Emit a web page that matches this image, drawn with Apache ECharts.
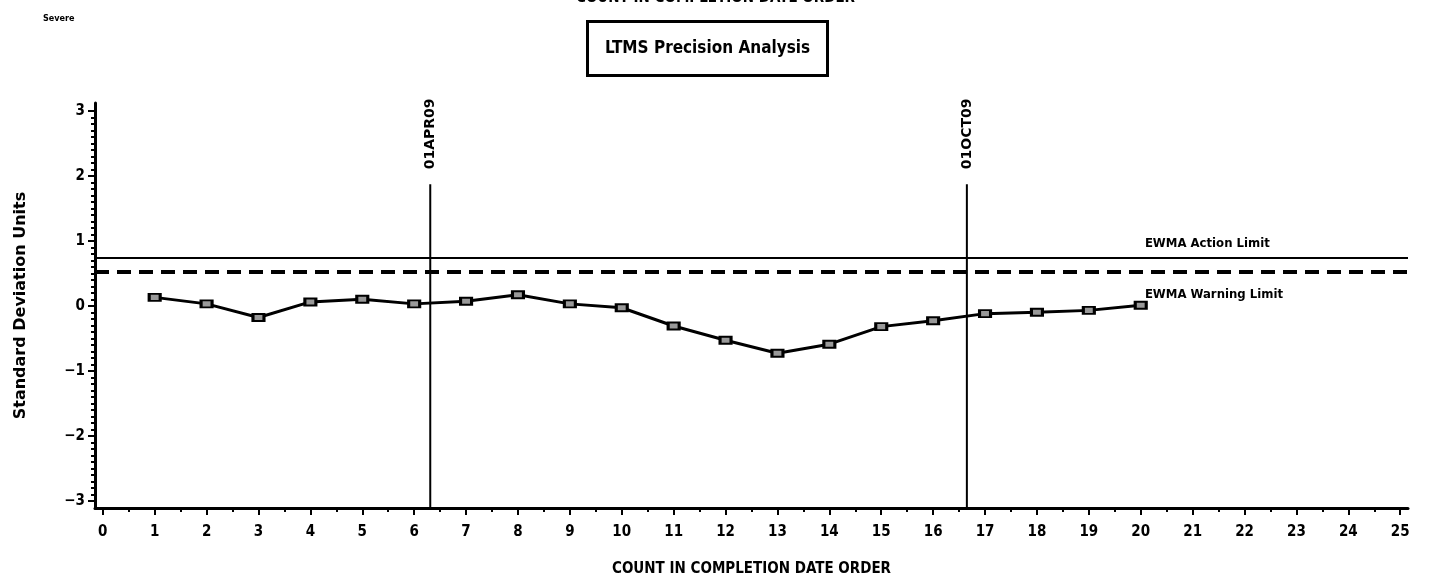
<!DOCTYPE html>
<html>
<head>
<meta charset="utf-8">
<script src="https://cdn.jsdelivr.net/npm/echarts@6/dist/echarts.min.js"></script>
<style>
  html, body { margin: 0; padding: 0; background: #fff; }
  #chart { width: 1431px; height: 581px; }
</style>
</head>
<body>
<div id="chart"></div>
<script>
// EWMA values by test count
const counts = [1, 2, 3, 4, 5, 6, 7, 8, 9, 10, 11, 12, 13, 14, 15, 16, 17, 18, 19, 20];
const ewma = [0.13, 0.03, -0.18, 0.06, 0.10, 0.03, 0.07, 0.17, 0.03, -0.03,
  -0.31, -0.53, -0.73, -0.59, -0.32, -0.23, -0.12, -0.10, -0.07, 0.01];

// limits
const actionLimit = 0.74;
const warningLimit = 0.52;

// date markers (position on count axis, label)
const dateMarks = [[6.31, '01APR09'], [16.65, '01OCT09']];
const dateMarkTop = 1.87;

// axis ticks
const xTicks = [0, 1, 2, 3, 4, 5, 6, 7, 8, 9, 10, 11, 12, 13, 14, 15, 16, 17, 18, 19, 20, 21, 22, 23, 24, 25];
const yTicks = [-3, -2, -1, 0, 1, 2, 3];
const xMin = -0.15, xMax = 25.15;
const yMin = -3.11, yMax = 3.12;

const xMinor = xTicks.slice(0, -1).map(v => v + 0.5);
const yMinor = [];
yTicks.slice(0, -1).forEach(v => {
  for (let i = 1; i < 10; i++) yMinor.push(+(v + i / 10).toFixed(2));
});

const FONT = '"DejaVu Sans Condensed", "Liberation Sans", sans-serif';
const chart = echarts.init(document.getElementById('chart'));

const option = {
  animation: false,
  backgroundColor: '#fff',
  title: [
    {
      text: 'LTMS Precision Analysis',
      left: 587, top: 21,
      padding: [19, 18, 19, 18],
      borderColor: '#000', borderWidth: 3,
      textStyle: { fontFamily: FONT, fontWeight: 'bold', fontSize: 17, color: '#000' }
    },
    {
      text: 'Severe',
      left: 38, top: 9,
      textStyle: { fontFamily: FONT, fontWeight: 'bold', fontSize: 9, color: '#000' }
    },
    {
      text: 'COUNT IN COMPLETION DATE ORDER',
      left: 'center', top: -14,
      textStyle: { fontFamily: FONT, fontWeight: 'bold', fontSize: 15, color: '#000' }
    }
  ],
  grid: { left: 95, right: 23, top: 103, bottom: 73, containLabel: false, outerBoundsMode: 'none' },
  xAxis: [
    {
      type: 'value', min: xMin, max: xMax,
      name: 'COUNT IN COMPLETION DATE ORDER',
      nameLocation: 'middle', nameGap: 54,
      nameTextStyle: { fontFamily: FONT, fontWeight: 'bold', fontSize: 15, color: '#000' },
      axisLine: { onZero: false, lineStyle: { color: '#000', width: 3 } },
      axisTick: { customValues: xTicks, length: 7, lineStyle: { color: '#000', width: 2 } },
      axisLabel: {
        customValues: xTicks, margin: 17, color: '#000',
        fontFamily: FONT, fontWeight: 'bold', fontSize: 15
      },
      splitLine: { show: false }
    },
    {
      type: 'value', min: xMin, max: xMax, position: 'bottom',
      axisLine: { show: false, onZero: false },
      axisTick: { customValues: xMinor, length: 4, lineStyle: { color: '#000', width: 2 } },
      axisLabel: { show: false },
      splitLine: { show: false }
    }
  ],
  yAxis: [
    {
      type: 'value', min: yMin, max: yMax,
      name: 'Standard Deviation Units',
      nameLocation: 'middle', nameGap: 66,
      nameTextStyle: { fontFamily: '"DejaVu Sans", sans-serif', fontWeight: 'bold', fontSize: 16, color: '#000' },
      axisLine: { onZero: false, lineStyle: { color: '#000', width: 3 } },
      axisTick: { customValues: yTicks, length: 7, lineStyle: { color: '#000', width: 2 } },
      axisLabel: {
        customValues: yTicks, margin: 10, color: '#000',
        fontFamily: FONT, fontWeight: 'bold', fontSize: 15,
        formatter: v => String(v).replace('-', '\u2212')
      },
      splitLine: { show: false }
    },
    {
      type: 'value', min: yMin, max: yMax, position: 'left',
      axisLine: { show: false, onZero: false },
      axisTick: { customValues: yMinor, length: 4, lineStyle: { color: '#000', width: 2 } },
      axisLabel: { show: false },
      splitLine: { show: false }
    }
  ],
  series: [
    {
      name: 'EWMA',
      type: 'line',
      data: counts.map((c, i) => [c, ewma[i]]),
      symbol: 'rect', symbolSize: [11, 7],
      itemStyle: { color: '#999', borderColor: '#000', borderWidth: 2.5 },
      lineStyle: { color: '#000', width: 3 },
      z: 5,
      markLine: {
        silent: true, symbol: 'none',
        label: { show: false },
        data: [
          { yAxis: actionLimit, lineStyle: { color: '#000', width: 2, type: 'solid' } },
          { yAxis: warningLimit, lineStyle: { color: '#000', width: 4, type: [14, 8] } }
        ]
      }
    },
    ...dateMarks.map(([x]) => ({
      type: 'line',
      data: [[x, yMin], [x, dateMarkTop]],
      symbol: 'none',
      lineStyle: { color: '#000', width: 2 },
      z: 3
    })),
    {
      type: 'scatter',
      symbolSize: 0,
      itemStyle: { opacity: 1 },
      data: dateMarks.map(([x, label]) => ({ value: [x, dateMarkTop + 0.2], name: label })),
      label: {
        show: true, position: 'inside', rotate: 90, align: 'left', verticalAlign: 'middle',
        offset: [2, 0],
        formatter: p => p.name,
        fontFamily: '"DejaVu Sans", sans-serif', fontWeight: 'bold', fontSize: 14, color: '#000'
      }
    },
    {
      type: 'scatter',
      symbolSize: 0,
      itemStyle: { opacity: 1 },
      data: [
        { value: [20.08, 0.95], name: 'EWMA Action Limit' },
        { value: [20.08, 0.17], name: 'EWMA Warning Limit' }
      ],
      label: {
        show: true, position: 'inside', align: 'left', verticalAlign: 'middle',
        formatter: p => p.name,
        fontFamily: FONT, fontWeight: 'bold', fontSize: 13, color: '#000'
      }
    }
  ]
};

chart.setOption(option);
</script>
</body>
</html>
